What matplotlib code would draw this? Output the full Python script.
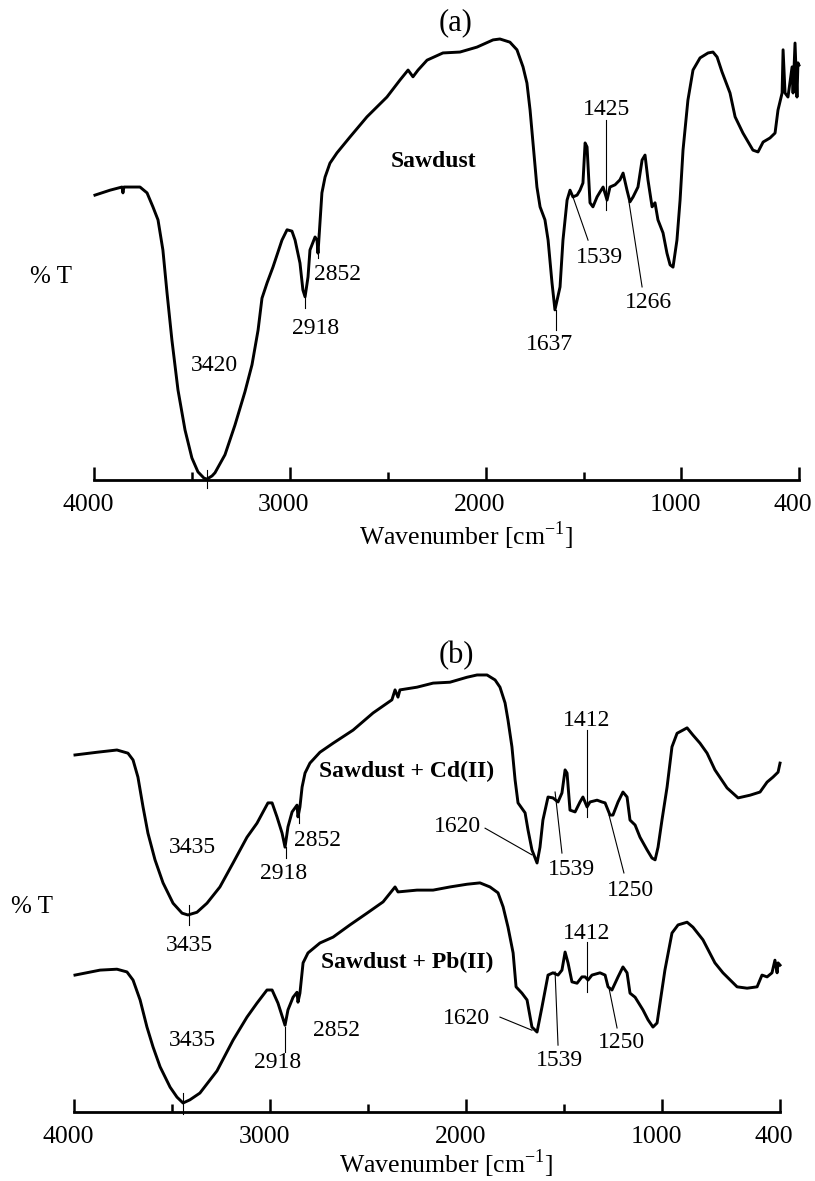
import numpy as np
import matplotlib
matplotlib.use('Agg')
import matplotlib.pyplot as plt
import matplotlib.transforms as mtransforms

plt.rcParams['font.family'] = ['Liberation Serif', 'DejaVu Serif']
plt.rcParams['mathtext.fontset'] = 'custom'
plt.rcParams['mathtext.rm'] = 'Liberation Serif'

# ---- data (wavenumber in cm-1, arbitrary %T) ----
# (a) sawdust
wn_a = [3995, 3918, 3857, 3852, 3847, 3765, 3729, 3699, 3673, 3648, 3627, 3602, 3571, 3535,
        3500, 3469, 3438, 3423, 3397, 3382, 3331, 3280, 3229, 3193, 3162, 3142, 3116, 3086,
        3040, 3014, 2989, 2973, 2948, 2933, 2922, 2907, 2897, 2871, 2861, 2856, 2851, 2836,
        2820, 2795, 2759, 2693, 2606, 2504, 2437, 2396, 2371, 2345, 2299, 2218, 2131, 2044,
        1962, 1927, 1876, 1840, 1809, 1789, 1773, 1758, 1738, 1722, 1697, 1681, 1661, 1646,
        1620, 1605, 1584, 1569, 1554, 1533, 1518, 1503, 1492, 1482, 1467, 1452, 1431, 1416,
        1400, 1380, 1365, 1339, 1314, 1298, 1278, 1263, 1247, 1222, 1201, 1186, 1171, 1150,
        1135, 1120, 1094, 1074, 1058, 1043, 1023, 1007, 992, 967, 941, 905, 864, 839, 818,
        793, 752, 726, 686, 635, 609, 583, 548, 522, 507, 486, 481, 471, 456, 435, 430, 420,
        410, 405, 400]
t_a = [63.3, 64.4, 65.1, 63.8, 65.1, 65.1, 63.8, 60.7, 57.8, 51.1, 41.6, 31.1, 20.0, 11.1,
       4.9, 1.8, 0.4, 0.2, 0.9, 1.6, 5.6, 12.2, 19.6, 25.6, 33.3, 40.4, 43.8, 47.3,
       53.3, 55.6, 55.3, 53.3, 48.2, 42.2, 40.7, 45.1, 51.1, 54.0, 53.3, 50.4, 53.8, 63.8,
       67.3, 70.4, 72.7, 76.2, 80.7, 85.1, 88.9, 91.1, 89.6, 91.1, 93.3, 94.9, 95.1, 96.2,
       97.8, 98.0, 97.3, 95.6, 91.8, 88.2, 82.2, 74.9, 65.1, 60.7, 57.8, 53.3, 43.8, 37.8,
       42.9, 53.3, 62.2, 64.4, 62.9, 63.3, 64.4, 66.0, 74.9, 74.0, 61.6, 60.7, 62.9, 64.0,
       65.1, 62.2, 65.1, 65.6, 66.7, 68.2, 64.4, 61.8, 62.9, 65.1, 71.1, 72.2, 66.7, 60.7,
       61.6, 57.8, 54.9, 50.4, 47.8, 47.3, 53.3, 62.2, 73.3, 84.4, 91.1, 93.8, 94.9, 95.1, 94.0,
       90.7, 86.0, 80.7, 77.1, 73.3, 72.9, 75.1, 76.0, 77.1, 82.2, 86.0, 95.6, 86.0, 85.1, 91.8, 86.0, 97.1,
       85.1, 92.7, 92.2]

# (b) sawdust + Cd(II)
wn_cd = [3995, 3883, 3781, 3725, 3699, 3674, 3648, 3623, 3587, 3546, 3495, 3449, 3419, 3373,
         3322, 3256, 3189, 3118, 3067, 3036, 3011, 2990, 2965, 2939, 2924, 2909, 2888, 2863,
         2858, 2848, 2837, 2822, 2797, 2746, 2679, 2577, 2475, 2379, 2363, 2348, 2338, 2251,
         2169, 2083, 1996, 1945, 1894, 1853, 1828, 1802, 1787, 1767, 1751, 1736, 1700, 1685,
         1665, 1639, 1624, 1609, 1583, 1558, 1532, 1512, 1496, 1486, 1471, 1445, 1420, 1405,
         1384, 1369, 1333, 1308, 1292, 1267, 1252, 1226, 1201, 1180, 1165, 1139, 1114, 1078,
         1053, 1037, 1022, 1002, 976, 951, 925, 895, 874, 844, 808, 772, 732, 670, 614, 553,
         502, 466, 436, 410, 400]
t_cd = [79.0, 79.6, 80.1, 79.4, 77.9, 74.1, 67.5, 61.7, 55.8, 50.7, 46.2, 44.0, 43.6, 44.2,
        46.2, 49.8, 55.1, 60.8, 63.9, 66.4, 68.4, 68.4, 65.3, 61.7, 58.6, 63.1, 66.4, 67.9,
        65.3, 67.5, 71.9, 75.0, 77.2, 79.6, 81.6, 84.5, 88.3, 91.2, 93.4, 91.8, 93.4, 94.0,
        94.9, 95.1, 96.2, 96.7, 96.7, 95.6, 94.0, 90.5, 86.7, 80.8, 73.5, 68.4, 66.2, 62.4,
        58.0, 55.1, 58.6, 64.6, 69.7, 69.5, 68.6, 70.6, 75.7, 75.0, 66.8, 66.4, 68.6, 69.7,
        67.5, 68.6, 69.0, 68.6, 68.4, 65.7, 65.7, 68.6, 70.8, 69.7, 64.6, 63.5, 60.8, 58.0,
        56.2, 55.8, 58.6, 64.6, 71.9, 80.8, 83.8, 84.5, 85.0, 83.4, 81.6, 79.4, 75.7, 71.7, 69.5, 70.1,
        70.8, 73.0, 74.1, 75.2, 77.2]

# (b) sawdust + Pb(II)
wn_pb = [3995, 3867, 3781, 3730, 3699, 3663, 3628, 3597, 3561, 3510, 3475, 3444, 3409, 3358,
         3271, 3189, 3118, 3067, 3016, 2990, 2960, 2924, 2909, 2883, 2863, 2858, 2848, 2832,
         2807, 2746, 2679, 2593, 2506, 2424, 2363, 2348, 2251, 2169, 2083, 1996, 1930, 1879,
         1838, 1812, 1787, 1761, 1746, 1716, 1690, 1665, 1639, 1614, 1583, 1558, 1532, 1512,
         1496, 1481, 1461, 1435, 1410, 1394, 1379, 1359, 1318, 1292, 1277, 1257, 1226, 1201,
         1180, 1165, 1139, 1099, 1073, 1048, 1027, 1012, 987, 951, 920, 874, 844, 793, 732,
         691, 619, 568, 517, 492, 466, 441, 426, 415, 410, 400]
t_pb = [30.3, 31.4, 31.6, 31.0, 29.2, 24.8, 18.8, 14.4, 10.0, 5.5, 3.3, 2.0, 2.7, 4.2,
        9.1, 15.9, 21.0, 24.1, 27.0, 27.0, 24.1, 19.2, 22.6, 25.4, 26.5, 24.3, 26.3, 33.0,
        35.2, 37.4, 38.7, 41.4, 44.0, 46.5, 49.8, 48.7, 49.1, 49.1, 49.8, 50.4, 50.7, 49.8,
        48.5, 45.4, 40.9, 35.2, 27.7, 26.3, 24.8, 18.8, 17.7, 23.2, 30.3, 30.8, 30.3, 31.4,
        35.4, 33.0, 28.8, 28.5, 29.9, 29.9, 29.2, 30.3, 30.8, 30.3, 27.7, 27.0, 29.9, 32.1,
        30.8, 26.3, 25.4, 22.6, 20.4, 18.8, 19.7, 24.1, 31.4, 39.6, 41.4, 42.0, 40.9, 38.1, 33.0,
        30.8, 27.7, 27.4, 27.7, 30.3, 29.9, 30.8, 33.6, 30.8, 33.0, 32.5]

major_ticks = [4000, 3000, 2000, 1000, 400]
minor_ticks = [3500, 2500, 1500]
tick_labels = ['4000', '3000', '2000', '1000', '400']

# peak labels: (text, text wn, text T, line [wn1, wn2], line [T1, T2] or None)
peaks_a = [
    ('3420', 3387, 24.2, [3423, 3423], [2.2, -1.8]),
    ('2918', 2866, 32.4, [2922, 2922], [40.7, 38.2]),
    ('2852', 2754, 44.4, [2856, 2856], [54.9, 49.3]),
    ('1637', 1676, 28.9, [1641, 1641], [37.8, 33.3]),
    ('1539', 1421, 48.2, [1554, 1477], [62.9, 53.3]),
    ('1425', 1385, 81.1, [1385, 1385], [80.0, 60.0]),
    ('1266', 1166, 38.2, [1268, 1201], [61.8, 42.9]),
]
peaks_b = [
    ('3435', 3398, 57.3, [3414, 3414], [45.8, 41.4]),
    ('3435', 3409, 35.6, None, None),
    ('2918', 2929, 51.5, [2919, 2919], [58.6, 56.2]),
    ('2852', 2756, 58.8, [2853, 2853], [66.8, 63.9]),
    ('1620', 2047, 61.9, [1904, 1665], [62.8, 56.9]),
    ('1539', 1461, 52.4, [1547, 1512], [70.8, 57.3]),
    ('1412', 1384, 85.4, [1384, 1384], [84.5, 65.3]),
    ('1250', 1165, 47.8, [1272, 1196], [65.7, 52.9]),
    ('3435', 3398, 14.6, [3444, 3444], [4.2, -0.5]),
    ('2918', 2960, 9.7, [2924, 2924], [18.8, 13.3]),
    ('2852', 2659, 16.8, None, None),
    ('1620', 2001, 19.5, [1828, 1665], [21.0, 18.1]),
    ('1539', 1527, 10.2, [1547, 1532], [31.0, 14.8]),
    ('1412', 1384, 38.3, [1384, 1384], [37.6, 26.5]),
    ('1250', 1206, 14.2, [1272, 1231], [27.4, 18.6]),
]


def style_axis(ax, label_x, label_y):
    ax.set_xlim(4000, 400)
    ax.set_ylim(0, 100)
    for s in ['top', 'left', 'right']:
        ax.spines[s].set_visible(False)
    ax.spines['bottom'].set_linewidth(2.0)
    ax.set_yticks([])
    ax.set_xticks(major_ticks)
    ax.set_xticklabels(tick_labels)
    ax.set_xticks(minor_ticks, minor=True)
    ax.tick_params(axis='x', which='major', direction='in', length=9.5, width=1.8,
                   labelsize=18.5, pad=10)
    ax.tick_params(axis='x', which='minor', direction='in', length=5.8, width=1.8)
    # labels in the original sit a few pixels left of their ticks
    shift = mtransforms.ScaledTranslation(-0.06, 0, ax.figure.dpi_scale_trans)
    for tk in ax.xaxis.get_major_ticks():
        tk.label1.set_transform(tk.label1.get_transform() + shift)
    ax.text(label_x, label_y, r'Wavenumber [cm$^{\mathregular{-1}}$]', transform=ax.transAxes,
            ha='center', va='baseline', fontsize=18.5)
    ax.patch.set_visible(False)


def draw_peaks(ax, peaks):
    for txt, tx, ty, lx, ly in peaks:
        ax.text(tx, ty, txt, ha='center', va='baseline', fontsize=17, clip_on=False)
        if lx is not None:
            ax.plot(lx, ly, color='black', lw=0.8, clip_on=False)


fig = plt.figure(figsize=(8.15, 11.81), dpi=100)

ax1 = fig.add_axes([0.1153, 0.5936, 0.8650, 0.3810])
ax1.plot(wn_a, t_a, color='black', lw=2.1, clip_on=False)
style_axis(ax1, 0.528, -0.144)
draw_peaks(ax1, peaks_a)
ax1.text(2264, 69.6, 'Sawdust', ha='center', va='baseline', fontsize=17, fontweight='bold')
ax1.text(4220, 43.8, '% T', ha='center', va='baseline', fontsize=18, clip_on=False)
ax1.text(2156, 100.0, '(a)', ha='center', va='baseline', fontsize=22, clip_on=False)

ax2 = fig.add_axes([0.0908, 0.0584, 0.8663, 0.3827])
ax2.plot(wn_cd, t_cd, color='black', lw=2.1, clip_on=False)
ax2.plot(wn_pb, t_pb, color='black', lw=2.1, clip_on=False)
style_axis(ax2, 0.527, -0.135)
draw_peaks(ax2, peaks_b)
ax2.text(2302, 74.1, 'Sawdust + Cd(II)', ha='center', va='baseline', fontsize=17, fontweight='bold')
ax2.text(2302, 31.9, 'Sawdust + Pb(II)', ha='center', va='baseline', fontsize=17, fontweight='bold')
ax2.text(4214, 44.0, '% T', ha='center', va='baseline', fontsize=18, clip_on=False)
ax2.text(2052, 99.3, '(b)', ha='center', va='baseline', fontsize=22, clip_on=False)

fig.savefig('out.png', dpi=100)
